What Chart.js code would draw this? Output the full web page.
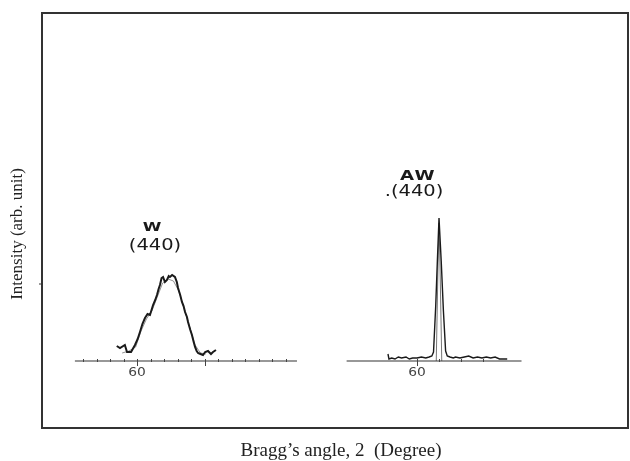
<!DOCTYPE html>
<html>
<head>
<meta charset="utf-8">
<script src="https://cdn.jsdelivr.net/npm/chart.js@4"></script>
<style>
  html, body { margin: 0; padding: 0; background: #fff; }
  #wrap { width: 630px; height: 461px; }
</style>
</head>
<body>
<div id="wrap"><canvas id="xrdChart" width="630" height="461"></canvas></div>
<script>
// W sample (440) - broad peak, 2theta in degree, intensity arb.
const wAngle = [58.5, 58.74, 59.1, 59.26, 59.56, 59.85, 60.05, 60.22, 60.4, 60.59, 60.78, 60.96, 61.1, 61.19, 61.35, 61.48, 61.6, 61.7, 61.82, 61.93, 62.07, 62.22, 62.35, 62.44, 62.6, 62.81, 62.95, 63.04, 63.2, 63.33, 63.45, 63.56, 63.7, 63.78, 63.95, 64.07, 64.2, 64.3, 64.42, 64.52, 64.7, 64.89, 65.05, 65.26, 65.48, 65.63, 65.85];
const wInt   = [15, 13, 16, 9, 9, 16, 22, 29, 37, 43, 47, 46, 52, 56, 61, 66, 72, 76, 83, 84, 79, 81, 85, 84, 86, 84, 79, 73, 66, 59, 55, 49, 44, 39, 31, 26, 19, 14, 10, 8, 7, 6, 9, 10, 7, 9, 11];
// thinner second trace drawn over the W peak
const wAngle2 = [58.9, 59.4, 59.9, 60.3, 60.7, 61.1, 61.5, 61.9, 62.3, 62.7, 63.1, 63.5, 63.9, 64.3, 64.7, 65.1];
const wInt2   = [8, 10, 14, 30, 42, 50, 64, 78, 82, 80, 70, 52, 34, 16, 8, 7];
const wRange = [55.4, 71.85];
const wMinorTicks = [56, 57, 58, 59, 61, 62, 63, 64, 66, 67, 68, 69, 70, 71];
const wMajorTicks = [60, 65];
const wTickLabels = [60];

// AW sample (440) - sharp peak
const awAngle = [57.36, 57.45, 57.7, 58.0, 58.3, 58.6, 59.0, 59.3, 59.6, 60.0, 60.4, 60.8, 61.1, 61.35, 61.5, 61.7, 61.85, 62.0, 62.2, 62.4, 62.6, 62.75, 63.0, 63.3, 63.5, 63.9, 64.3, 64.7, 65.1, 65.5, 65.9, 66.3, 66.7, 67.1, 67.5, 68.2];
const awInt   = [7, 2, 3, 2, 4, 3, 4, 2, 3, 3, 4, 3, 4, 5, 9, 55, 100, 143, 100, 50, 10, 5, 4, 3, 4, 3, 4, 5, 3, 4, 3, 4, 3, 4, 2, 2];
// inner trace of the AW peak
const awAngle2 = [61.75, 61.9, 62.0, 62.1, 62.25];
const awInt2   = [0, 90, 138, 90, 0];
const awRange = [53.6, 69.5];
const awMinorTicks = [62, 64, 66];
const awMajorTicks = [60];
const awTickLabels = [60];

const toPoints = (xs, ys) => xs.map((x, i) => ({ x: x, y: ys[i] }))

const lineStyle = {
    borderColor: '#1a1a1a',
    borderWidth: 1.6,
    pointRadius: 0,
    tension: 0,
    fill: false
}

// stretched label text, like the wide lettering of the original plot
function wideText(ctx, text, x, y, font, stretch, spacing) {
    ctx.save()
    ctx.font = font
    ctx.letterSpacing = spacing
    ctx.translate(x, y)
    ctx.scale(stretch, 1)
    ctx.fillText(text, 0, 0)
    ctx.restore()
}

const decor = {
    id: 'decor',
    afterDatasetsDraw(chart) {
        const ctx = chart.ctx
        const a = chart.chartArea
        const y0 = chart.scales.y.getPixelForValue(0)

        ctx.save()
        // frame
        ctx.strokeStyle = '#333'
        ctx.lineWidth = 2
        ctx.strokeRect(a.left, a.top, a.right - a.left, a.bottom - a.top)
        ctx.lineWidth = 1
        ctx.beginPath()
        ctx.moveTo(a.left - 3, 284)
        ctx.lineTo(a.left, 284)
        ctx.stroke()

        // ticks along the two baselines
        const drawTicks = (scale, minor, major, labels) => {
            ctx.strokeStyle = '#444'
            ctx.lineWidth = 1
            minor.forEach(v => {
                const px = Math.round(scale.getPixelForValue(v)) + 0.5
                ctx.beginPath()
                ctx.moveTo(px, y0 - 2)
                ctx.lineTo(px, y0 + 1)
                ctx.stroke()
            })
            major.forEach(v => {
                const px = Math.round(scale.getPixelForValue(v)) + 0.5
                ctx.beginPath()
                ctx.moveTo(px, y0 - 2)
                ctx.lineTo(px, y0 + 5)
                ctx.stroke()
            })
            ctx.fillStyle = '#444'
            ctx.textAlign = 'center'
            ctx.textBaseline = 'middle'
            labels.forEach(v => {
                wideText(ctx, String(v), scale.getPixelForValue(v), y0 + 12, '12px "DejaVu Sans"', 1.15, '0px')
            })
        }
        drawTicks(chart.scales.xW, wMinorTicks, wMajorTicks, wTickLabels)
        drawTicks(chart.scales.xAW, awMinorTicks, awMajorTicks, awTickLabels)

        // peak labels
        ctx.fillStyle = '#1a1a1a'
        ctx.textAlign = 'center'
        ctx.textBaseline = 'middle'
        wideText(ctx, 'W', 152, 228, 'bold 13px "DejaVu Sans"', 1.3, '0px')
        wideText(ctx, 'AW', 418, 176, 'bold 14px "DejaVu Sans"', 1.3, '1px')
        wideText(ctx, '(440)', 155, 246, '15px "DejaVu Sans"', 1.3, '0px')
        wideText(ctx, '.(440)', 414, 192, '15px "DejaVu Sans"', 1.3, '0px')

        // axis titles
        ctx.fillStyle = '#222'
        ctx.font = '19px "Liberation Serif"'
        ctx.fillText('Bragg\u2019s angle, 2  (Degree)', 341, 451)
        ctx.save()
        ctx.translate(18, 234)
        ctx.rotate(-Math.PI / 2)
        ctx.font = '17px "Liberation Serif"'
        ctx.fillText('Intensity (arb. unit)', 0, 0)
        ctx.restore()

        ctx.restore()
    }
}

new Chart(document.getElementById('xrdChart'), {
    type: 'line',
    data: {
        datasets: [
            { ...lineStyle, xAxisID: 'xW', data: toPoints(wRange, [0, 0]), borderWidth: 1.2, borderColor: '#333' },
            { ...lineStyle, xAxisID: 'xAW', data: toPoints(awRange, [0, 0]), borderWidth: 1.2, borderColor: '#333' },
            { ...lineStyle, xAxisID: 'xW', label: 'W (440)', data: toPoints(wAngle, wInt), borderWidth: 2 },
            { ...lineStyle, xAxisID: 'xW', data: toPoints(wAngle2, wInt2), borderWidth: 0.8, borderColor: '#777' },
            { ...lineStyle, xAxisID: 'xAW', label: 'AW (440)', data: toPoints(awAngle, awInt), borderWidth: 1.4 },
            { ...lineStyle, xAxisID: 'xAW', data: toPoints(awAngle2, awInt2), borderWidth: 0.9, borderColor: '#666' }
        ]
    },
    options: {
        responsive: false,
        animation: false,
        events: [],
        layout: { padding: { left: 42, right: 2, top: 13, bottom: 33 } },
        plugins: { legend: { display: false }, tooltip: { enabled: false } },
        scales: {
            xW: { type: 'linear', display: false, min: 52.963, max: 96.37 },
            xAW: { type: 'linear', display: false, min: 25.909, max: 79.18 },
            y: { type: 'linear', display: false, min: -67, max: 348 }
        }
    },
    plugins: [decor]
})
</script>
</body>
</html>
